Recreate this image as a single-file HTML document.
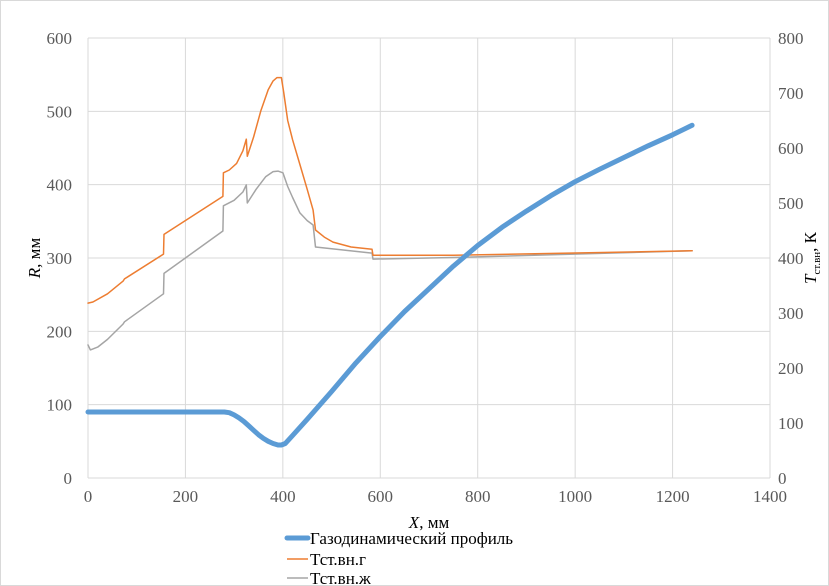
<!DOCTYPE html>
<html><head><meta charset="utf-8"><style>
body{margin:0;background:#fff}
svg{display:block;font-family:"Liberation Serif",serif}
</style></head><body>
<svg id="c" width="829" height="586">
<rect x="0.5" y="0.5" width="828" height="585" fill="#fff" stroke="#d9d9d9"/>
<g id="grid"></g><g id="series"></g><g id="axes"></g>
<text x="429" y="528" font-size="17" text-anchor="middle"><tspan font-style="italic">X</tspan>, мм</text>
<text transform="translate(40,258) rotate(-90)" font-size="17" text-anchor="middle"><tspan font-style="italic">R</tspan>, мм</text>
<text transform="translate(816,258) rotate(-90)" font-size="17" text-anchor="middle"><tspan font-style="italic">T</tspan><tspan font-size="11" dy="4">ст.вн</tspan><tspan dy="-4">, К</tspan></text>
<g>
<line x1="287" y1="538" x2="308" y2="538" stroke="#5b9bd5" stroke-width="5" stroke-linecap="round"/>
<text x="310" y="544" font-size="17">Газодинамический профиль</text>
<line x1="287" y1="559" x2="308" y2="559" stroke="#ed7d31" stroke-width="1.5"/>
<text x="310" y="565" font-size="17">Тст.вн.г</text>
<line x1="287" y1="578" x2="308" y2="578" stroke="#a5a5a5" stroke-width="1.5"/>
<text x="310" y="584" font-size="17">Тст.вн.ж</text>
</g>
</svg>
<script>
const xTicks=[0,200,400,600,800,1000,1200,1400];
const rTicks=[0,100,200,300,400,500,600];
const tTicks=[0,100,200,300,400,500,600,700,800];
const profX=[0,280,290,300,310,320,330,340,350,360,370,380,390,397,405,420,450,500,550,600,650,700,750,800,850,900,950,1000,1050,1100,1150,1200,1240];
const profR=[90,90,89,86,82,77,71,65,59,54,50,47,45,45,47,58,80,118,157,193,227,258,289,317,342,364,385,404,421,437,453,468,481];
const tgX=[0,10,40,72,75,155,156,277,278,290,305,318,325,327,340,355,370,380,388,397,402,410,420,435,450,462,467,485,503,540,583,585,750,1240];
const tgT=[318,320,335,358,362,407,443,512,555,560,572,595,616,585,620,668,706,722,728,728,700,650,615,570,525,487,451,438,429,420,416,405,405,413];
const tlX=[0,5,20,40,72,75,155,156,277,278,300,318,325,327,345,365,380,390,400,410,420,435,450,462,467,583,585,750,1240];
const tlT=[242,233,238,252,280,284,335,372,449,495,505,520,533,500,525,548,557,558,555,530,510,482,468,460,420,409,398,401,413];
const L=88,R=770,T=38,B=478;
const xs=v=>L+v/1400*(R-L), yl=v=>B-v/600*(B-T), yr=v=>B-v/800*(B-T);
const NS="http://www.w3.org/2000/svg";
function mk(tag,attrs,parent,txt){const e=document.createElementNS(NS,tag);for(const k in attrs)e.setAttribute(k,attrs[k]);if(txt!==undefined)e.textContent=txt;document.getElementById(parent).appendChild(e);return e;}
xTicks.forEach(v=>{
 const g=mk('line',{x1:xs(v),x2:xs(v),y1:T,y2:B,stroke:'#d9d9d9'},'grid');
 
 
 const t=mk('text',{x:xs(v),y:B+24,'font-size':17,'text-anchor':'middle',fill:'#595959'},'axes',v);
 
 
});
rTicks.forEach(v=>{
 const g=mk('line',{x1:L,x2:R,y1:yl(v),y2:yl(v),stroke:'#d9d9d9'},'grid');
 
 
 const t=mk('text',{x:L-16,y:yl(v)+6,'font-size':17,'text-anchor':'end',fill:'#595959'},'axes',v);
 
 
});
tTicks.forEach(v=>{
 const t=mk('text',{x:R+8,y:yr(v)+6,'font-size':17,fill:'#595959'},'axes',v);
 
 
});
function path(X,Y,fy,stroke,w,name){
 const d=X.map((x,i)=>(i?'L':'M')+xs(x).toFixed(1)+','+fy(Y[i]).toFixed(1)).join('');
 const p=mk('path',{d:d,fill:'none',stroke:stroke,'stroke-width':w,'stroke-linejoin':'round','stroke-linecap':'round'},'series');
 
 
}
path(tlX,tlT,yr,'#a5a5a5',1.5,'series-t-liquid');
path(tgX,tgT,yr,'#ed7d31',1.5,'series-t-gas');
path(profX,profR,yl,'#5b9bd5',5,'series-profile');
</script>
</body></html>
